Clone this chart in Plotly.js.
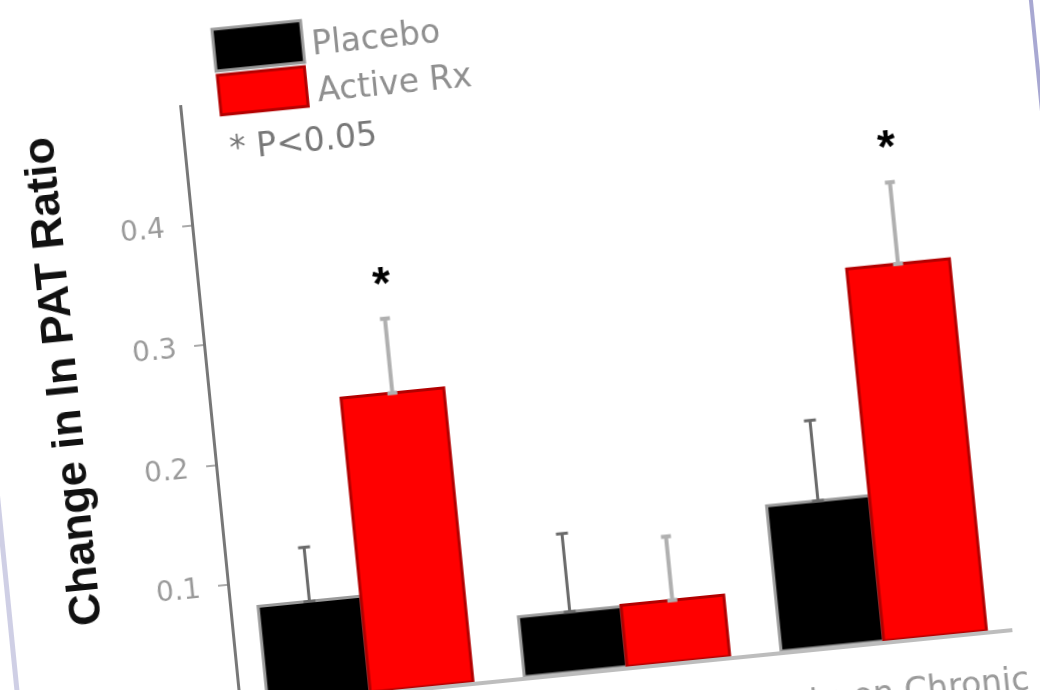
<!DOCTYPE html>
<html><head><meta charset="utf-8">
<script src="https://cdn.plot.ly/plotly-3.0.1.min.js"></script>
<style>
html,body{margin:0;padding:0;width:1040px;height:690px;overflow:hidden;background:#fff;}
#wrap{position:absolute;left:42px;top:-8px;width:1074px;height:833px;transform-origin:200px 713px;transform:rotate(-5.7deg);filter:blur(0.4px);}
#chart{position:absolute;left:0;top:0;width:1074px;height:833px;}
.frame{position:absolute;top:-400px;height:1800px;z-index:5;}
#fl{left:-25px;width:5px;background:#cfcfe5;}
#fr{left:1053px;width:4px;background:#a8a8d2;}
</style></head>
<body><div id="wrap"><div id="chart"></div><div id="fl" class="frame"></div><div id="fr" class="frame"></div></div>
<script>
const categories = ["Acute", "Chronic", "Acute on Chronic"];
const placebo = [0.080, 0.050, 0.121];
const placeboErr = [0.045, 0.065, 0.067];
const activeRx = [0.245, 0.051, 0.310];
const activeErr = [0.062, 0.053, 0.068];
const significant = [true, false, true];
const yTickVals = [0.1, 0.2, 0.3, 0.4];
const yTickText = ["0.1", "0.2", "0.3", "0.4"];
const seriesNames = ["Placebo", "Active Rx"];
const sigNote = "* P<0.05";
const yTitle = "Change in ln PAT Ratio";

const xs = categories.map((c, i) => i);
const zeros = categories.map(() => 0);

const tracePlacebo = {
  type: 'bar', name: seriesNames[0], x: xs, y: placebo,
  marker: {color: '#000000', line: {color: '#9a9a9a', width: 3}},
  error_y: {type: 'data', symmetric: false, array: placeboErr, arrayminus: zeros,
            color: '#6a6a6a', thickness: 3, width: 6}
};
const traceActive = {
  type: 'bar', name: seriesNames[1], x: xs, y: activeRx,
  marker: {color: '#ff0000', line: {color: '#b30000', width: 3}},
  error_y: {type: 'data', symmetric: false, array: activeErr, arrayminus: zeros,
            color: '#b0b0b0', thickness: 4, width: 5}
};
const sigIdx = xs.filter(i => significant[i]);
const starAnnotations = sigIdx.map(i => ({
  x: i + 0.2, y: activeRx[i] + activeErr[i], xref: 'x', yref: 'y',
  text: '*', showarrow: false, xanchor: 'center', yanchor: 'bottom', yshift: 8,
  font: {family: 'Liberation Sans', size: 46, color: '#000', weight: 'bold'}
}));

const layout = {
  width: 1074, height: 833,
  margin: {l: 200, r: 100, t: 110, b: 120},
  paper_bgcolor: 'rgba(0,0,0,0)', plot_bgcolor: 'rgba(0,0,0,0)',
  barmode: 'group', bargap: 0.2, bargroupgap: 0,
  showlegend: false,
  font: {family: 'DejaVu Sans', color: '#999'},
  xaxis: {range: [-0.5, 2.5], tickvals: xs, ticktext: categories, showline: true,
          linecolor: '#bdbdbd', linewidth: 4, ticks: '', showgrid: false, zeroline: false,
          tickfont: {size: 33, color: '#9a9a9a'}, ticklabelstandoff: 19, fixedrange: true},
  yaxis: {range: [0, 0.5], tickvals: yTickVals, ticktext: yTickText, showline: true,
          linecolor: '#777', linewidth: 3, ticks: 'outside', ticklen: 9, tickwidth: 2,
          tickcolor: '#aaa', showgrid: false, zeroline: false,
          tickfont: {size: 28, color: '#9a9a9a'}, ticklabelstandoff: 12, fixedrange: true},
  shapes: [
    {type: 'rect', xref: 'paper', yref: 'paper', x0: 0.048, x1: 0.163, y0: 1.05, y1: 1.12,
     fillcolor: '#000', line: {color: '#9a9a9a', width: 3}},
    {type: 'rect', xref: 'paper', yref: 'paper', x0: 0.049, x1: 0.162, y0: 0.977, y1: 1.043,
     fillcolor: '#ff0000', line: {color: '#b30000', width: 3}}
  ],
  annotations: [
    {text: yTitle, xref: 'paper', yref: 'paper', x: -0.19, y: 0.564, textangle: -90,
     showarrow: false, xanchor: 'center', yanchor: 'middle',
     font: {family: 'Liberation Sans', size: 45, color: '#111', weight: 'bold'}},
    {text: seriesNames[0], xref: 'paper', yref: 'paper', x: 0.172, y: 1.081, showarrow: false,
     xanchor: 'left', yanchor: 'middle', font: {size: 33, color: '#8f8f8f'}},
    {text: seriesNames[1], xref: 'paper', yref: 'paper', x: 0.173, y: 1.003, showarrow: false,
     xanchor: 'left', yanchor: 'middle', font: {size: 33, color: '#8f8f8f'}},
    {text: sigNote, xref: 'paper', yref: 'paper', x: 0.053, y: 0.922, showarrow: false,
     xanchor: 'left', yanchor: 'middle', font: {size: 33, color: '#777'}}
  ].concat(starAnnotations)
};

Plotly.newPlot('chart', [tracePlacebo, traceActive], layout,
               {staticPlot: true, displayModeBar: false});
</script>
</body></html>
